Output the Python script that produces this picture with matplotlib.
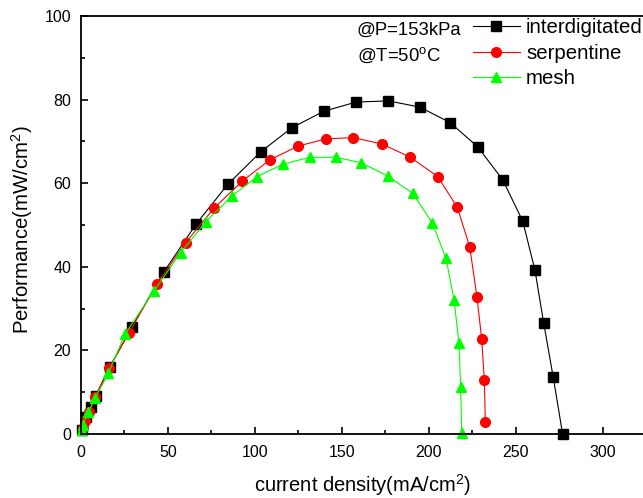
import matplotlib
matplotlib.use('Agg')
import matplotlib.pyplot as plt
from matplotlib.ticker import MultipleLocator

plt.rcParams['font.family'] = ['Liberation Sans', 'DejaVu Sans']
plt.rcParams['mathtext.fontset'] = 'custom'
plt.rcParams['mathtext.rm'] = 'Liberation Sans'
plt.rcParams['mathtext.it'] = 'Liberation Sans'

# values
inter_x = [0.5, 2.9, 5.6, 8.6, 16.7, 29.1, 47.7, 66.1, 84.3, 103.3, 121.3, 139.5, 158.0,
           176.6, 194.8, 212.1, 228.0, 242.4, 253.9, 260.9, 265.9, 271.4, 276.8]
inter_y = [1.0, 4.1, 6.4, 9.2, 16.1, 25.5, 38.8, 50.2, 59.7, 67.5, 73.3, 77.2, 79.4,
           79.7, 78.2, 74.5, 68.7, 60.8, 50.9, 39.2, 26.6, 13.6, 0.0]

serp_x = [1.0, 2.5, 4.8, 8.0, 16.1, 27.6, 43.5, 60.2, 76.4, 92.7, 108.6, 124.9, 140.8,
          156.5, 172.8, 188.9, 205.0, 216.3, 223.4, 227.6, 230.3, 231.8, 232.4]
serp_y = [1.5, 3.2, 5.3, 8.8, 15.8, 24.2, 35.8, 45.8, 54.0, 60.5, 65.6, 68.9, 70.6,
          70.9, 69.4, 66.3, 61.6, 54.2, 44.8, 32.7, 22.7, 12.9, 2.9]

mesh_x = [0.5, 1.0, 4.2, 8.0, 15.7, 25.3, 42.1, 57.3, 71.8, 86.6, 101.3, 116.3, 131.6,
          146.6, 160.9, 176.3, 190.6, 201.9, 209.8, 214.4, 217.2, 218.2, 218.8]
mesh_y = [1.0, 2.2, 5.2, 8.5, 14.5, 23.9, 34.3, 43.4, 50.8, 56.9, 61.6, 64.6, 66.2,
          66.2, 64.9, 61.7, 57.6, 50.5, 42.0, 32.1, 21.8, 11.2, 0.3]

fig = plt.figure(figsize=(6.43, 4.98), dpi=100)
ax = fig.add_axes([81 / 643, 1 - 434 / 498, 1 - 81 / 643, 418 / 498])

ax.plot(inter_x, inter_y, '-s', color='black', lw=0.8, ms=6.5, label='interdigitated', clip_on=False)
ax.plot(serp_x, serp_y, '-o', color='#ff0000', lw=0.8, ms=7, label='serpentine', clip_on=False)
ax.plot(mesh_x, mesh_y, '-^', color='#00ff00', lw=0.8, ms=7.5, label='mesh', clip_on=False)

ax.set_xlim(0, 323)
ax.set_ylim(0, 100)
ax.xaxis.set_major_locator(MultipleLocator(50))
ax.xaxis.set_minor_locator(MultipleLocator(25))
ax.yaxis.set_major_locator(MultipleLocator(20))
ax.yaxis.set_minor_locator(MultipleLocator(10))
ax.tick_params(which='both', direction='in', width=1.2, labelsize=11.5)
ax.tick_params(which='major', length=5)
ax.tick_params(which='minor', length=3)
ax.tick_params(axis='x', pad=8)
ax.tick_params(axis='y', pad=7)
ax.spines['right'].set_visible(False)
for s in ['left', 'bottom', 'top']:
    ax.spines[s].set_linewidth(1.3)

fig.text(363 / 643, 1 - 485 / 498, 'current density(mA/cm$^2$)', fontsize=14.5,
         ha='center', va='center')
fig.text(22 / 643, 1 - 230 / 498, 'Performance(mW/cm$^2$)', fontsize=14.7,
         ha='center', va='center', rotation=90)

fig.text(357 / 643, 1 - 30 / 498, '@P=153kPa', fontsize=13.3, va='center')
fig.text(357 / 643, 1 - 55 / 498, '@T=50$^\\mathrm{o}$C', fontsize=13.3, va='center')

ax.legend(loc='upper left', bbox_to_anchor=(473 / 643, 1 - 18 / 498),
          bbox_transform=fig.transFigure, frameon=False, fontsize=14.7,
          handlelength=2.3, handletextpad=0.3, labelspacing=0.33,
          borderpad=0, borderaxespad=0)

fig.savefig('out.png', dpi=100)
